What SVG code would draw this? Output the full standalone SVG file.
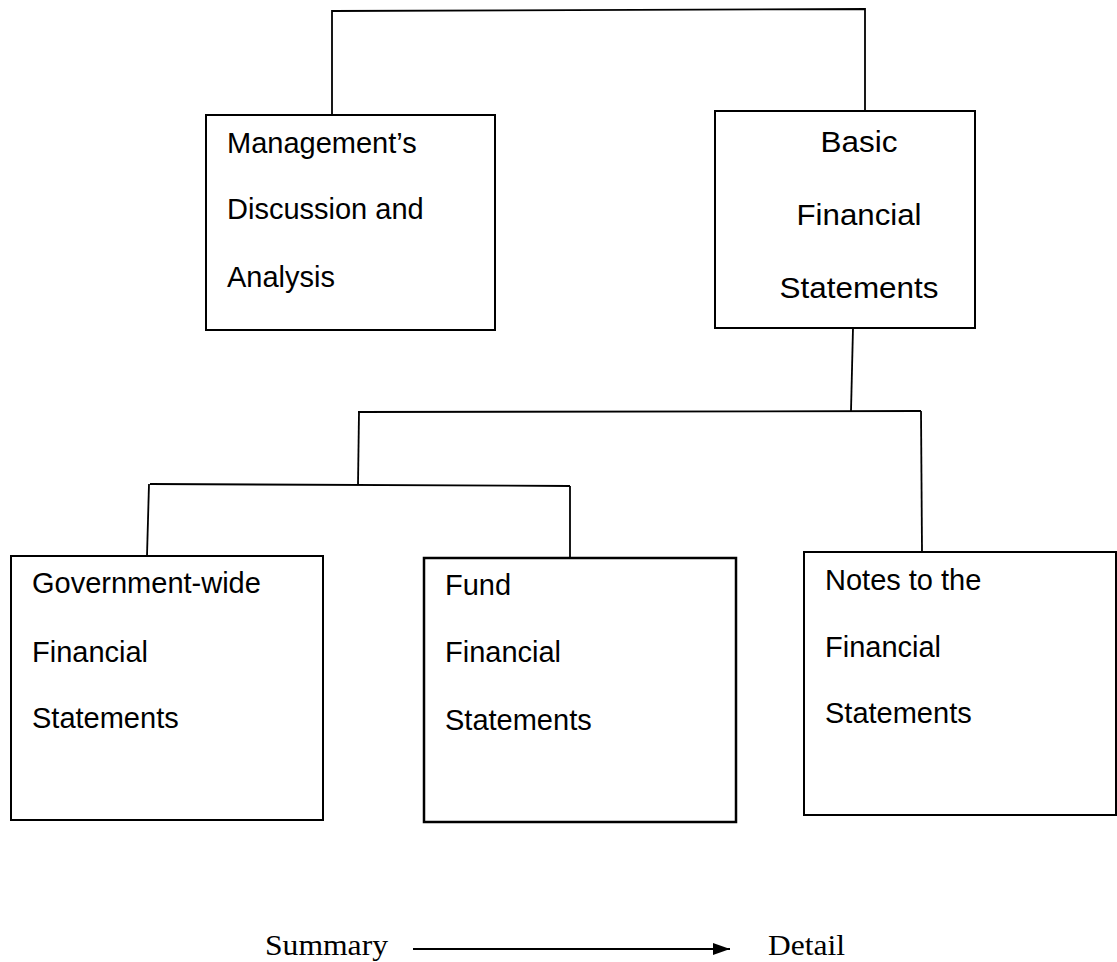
<svg xmlns="http://www.w3.org/2000/svg" width="1117" height="962" viewBox="0 0 1117 962">
<style>
.box{fill:#fff;stroke:#000;stroke-width:2}
.t{font-family:"Liberation Sans",Arial,sans-serif;font-size:29px;fill:#000}
.c{fill:none;stroke:#000;stroke-width:1.8}
.s{font-family:"Liberation Serif","Times New Roman",serif;font-size:29px;fill:#000}
</style>
<defs>
<marker id="ah" markerWidth="17" markerHeight="12" refX="17" refY="6" orient="auto" markerUnits="userSpaceOnUse">
<path d="M0,0 L17,6 L0,12 Z" fill="#000"/>
</marker>
</defs>
<rect width="1117" height="962" fill="#fff"/>
<g id="connectors">
<polyline class="c" points="332,115 332,11 865,9 865,111"/>
<line class="c" x1="853" y1="328" x2="851" y2="411"/>
<line class="c" x1="358" y1="412" x2="921" y2="411"/>
<line class="c" x1="359" y1="412" x2="358" y2="485"/>
<line class="c" x1="921" y1="411" x2="922" y2="552"/>
<line class="c" x1="150" y1="484" x2="570" y2="486"/>
<line class="c" x1="149" y1="484" x2="147" y2="556"/>
<line class="c" x1="570" y1="486" x2="570" y2="558"/>
<line class="c" x1="413" y1="949" x2="730" y2="949" stroke-width="2" marker-end="url(#ah)"/>
</g>
<g id="mda">
<rect class="box" x="206" y="115" width="289" height="215"/>
<text class="t" x="227" y="153">Management’s</text>
<text class="t" x="227" y="219">Discussion and</text>
<text class="t" x="227" y="287">Analysis</text>
</g>
<g id="basic">
<rect class="box" x="715" y="111" width="260" height="217"/>
<text class="t" x="859" y="152" text-anchor="middle" textLength="77" lengthAdjust="spacingAndGlyphs">Basic</text>
<text class="t" x="859" y="225" text-anchor="middle" textLength="125" lengthAdjust="spacingAndGlyphs">Financial</text>
<text class="t" x="859" y="298" text-anchor="middle" textLength="159" lengthAdjust="spacingAndGlyphs">Statements</text>
</g>
<g id="govwide">
<rect class="box" x="11" y="556" width="312" height="264"/>
<text class="t" x="32" y="593">Government-wide</text>
<text class="t" x="32" y="662">Financial</text>
<text class="t" x="32" y="728">Statements</text>
</g>
<g id="fund">
<rect class="box" x="424" y="558" width="312" height="264" style="stroke-width:2.5"/>
<text class="t" x="445" y="595">Fund</text>
<text class="t" x="445" y="662">Financial</text>
<text class="t" x="445" y="730">Statements</text>
</g>
<g id="notes">
<rect class="box" x="804" y="552" width="312" height="263"/>
<text class="t" x="825" y="590">Notes to the</text>
<text class="t" x="825" y="657">Financial</text>
<text class="t" x="825" y="723">Statements</text>
</g>
<g id="legend">
<text class="s" x="265" y="955" textLength="123" lengthAdjust="spacingAndGlyphs">Summary</text>
<text class="s" x="768" y="955" textLength="77" lengthAdjust="spacingAndGlyphs">Detail</text>
</g>
</svg>
